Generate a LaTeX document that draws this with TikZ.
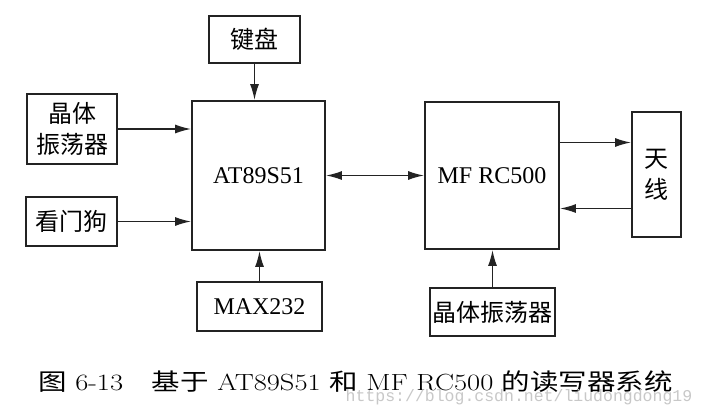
\documentclass[tikz,border=0pt]{standalone}
\usepackage{fontspec}
\newfontfamily\cjk{Noto Sans CJK SC}
\newfontfamily\tnr{Liberation Serif}
\newfontfamily\wmono{Liberation Mono}
\usetikzlibrary{arrows.meta,positioning,calc}
\definecolor{linegray}{RGB}{35,35,35}
\definecolor{markgray}{RGB}{200,200,200}

\begin{document}
\begin{tikzpicture}[x=1pt, y=1pt,
    blk/.style={draw=linegray, line width=1.8pt, inner sep=0pt, align=center, font=\fontsize{24}{31}\selectfont},
    sig/.style={draw=linegray, line width=1.6pt, -{Latex[length=16pt,width=9pt]}},
    bisig/.style={sig, {Latex[length=16pt,width=9pt]}-{Latex[length=16pt,width=9pt]}}]
    \fill[white] (0,0) rectangle (706,416);
    \useasboundingbox (0,0) rectangle (706,416);

    % main chips
    \node[blk, minimum width=133pt, minimum height=149pt] (mcu) at (258.5,240.5) {\tnr AT89S51};
    \node[blk, minimum width=134pt, minimum height=147pt] (rc) at (492,240.5) {\tnr MF RC500};

    % blocks round the AT89S51
    \node[blk, minimum width=91pt, minimum height=47pt] (kbd) at (254.5,376.5) {\cjk 键盘};
    \node[blk, minimum width=90pt, minimum height=70pt] (osca) at (72,287) {\cjk 晶体\\\cjk 振荡器};
    \node[blk, minimum width=91pt, minimum height=49pt] (wdog) at (71.5,194.5) {\cjk 看门狗};
    \node[blk, minimum width=125pt, minimum height=49pt] (max) at (259.5,109.5) {\tnr MAX232};

    % blocks round the MF RC500
    \node[blk, minimum width=49pt, minimum height=125pt] (ant) at (656.5,241.5) {\cjk 天\\\cjk 线};
    \node[blk, minimum width=125pt, minimum height=48pt] (oscb) at (492.5,104) {\cjk 晶体振荡器};

    \draw[sig] (kbd.south) -- (kbd.south |- mcu.north);
    \draw[sig] (osca.east) -- (osca.east -| mcu.west);
    \draw[sig] (wdog.east) -- (wdog.east -| mcu.west);
    \draw[sig] (max.north) -- (max.north |- mcu.south);
    \draw[bisig] (mcu.east) -- (rc.west);
    \draw[sig] ([yshift=33pt]rc.east) -- ([yshift=33pt]rc.east -| ant.west);
    \draw[sig] ([yshift=-33pt]rc.east -| ant.west) -- ([yshift=-33pt]rc.east);
    \draw[sig] (oscb.north) -- (oscb.north |- rc.south);

    % caption and watermark
    \node[font=\fontsize{28.5}{30}\selectfont, inner sep=0pt, anchor=west, yscale=0.82, transform shape] (cap) at (38,34)
        {{\cjk 图} 6-13\quad {\cjk 基于} AT89S51 {\cjk 和} MF RC500 {\cjk 的读写器系统}};
    \node[font=\fontsize{16.5}{18}\selectfont\wmono, text=markgray, inner sep=0pt] (mark) at (519,19)
        {https://blog.csdn.net/liudongdong19};
\end{tikzpicture}
\end{document}
